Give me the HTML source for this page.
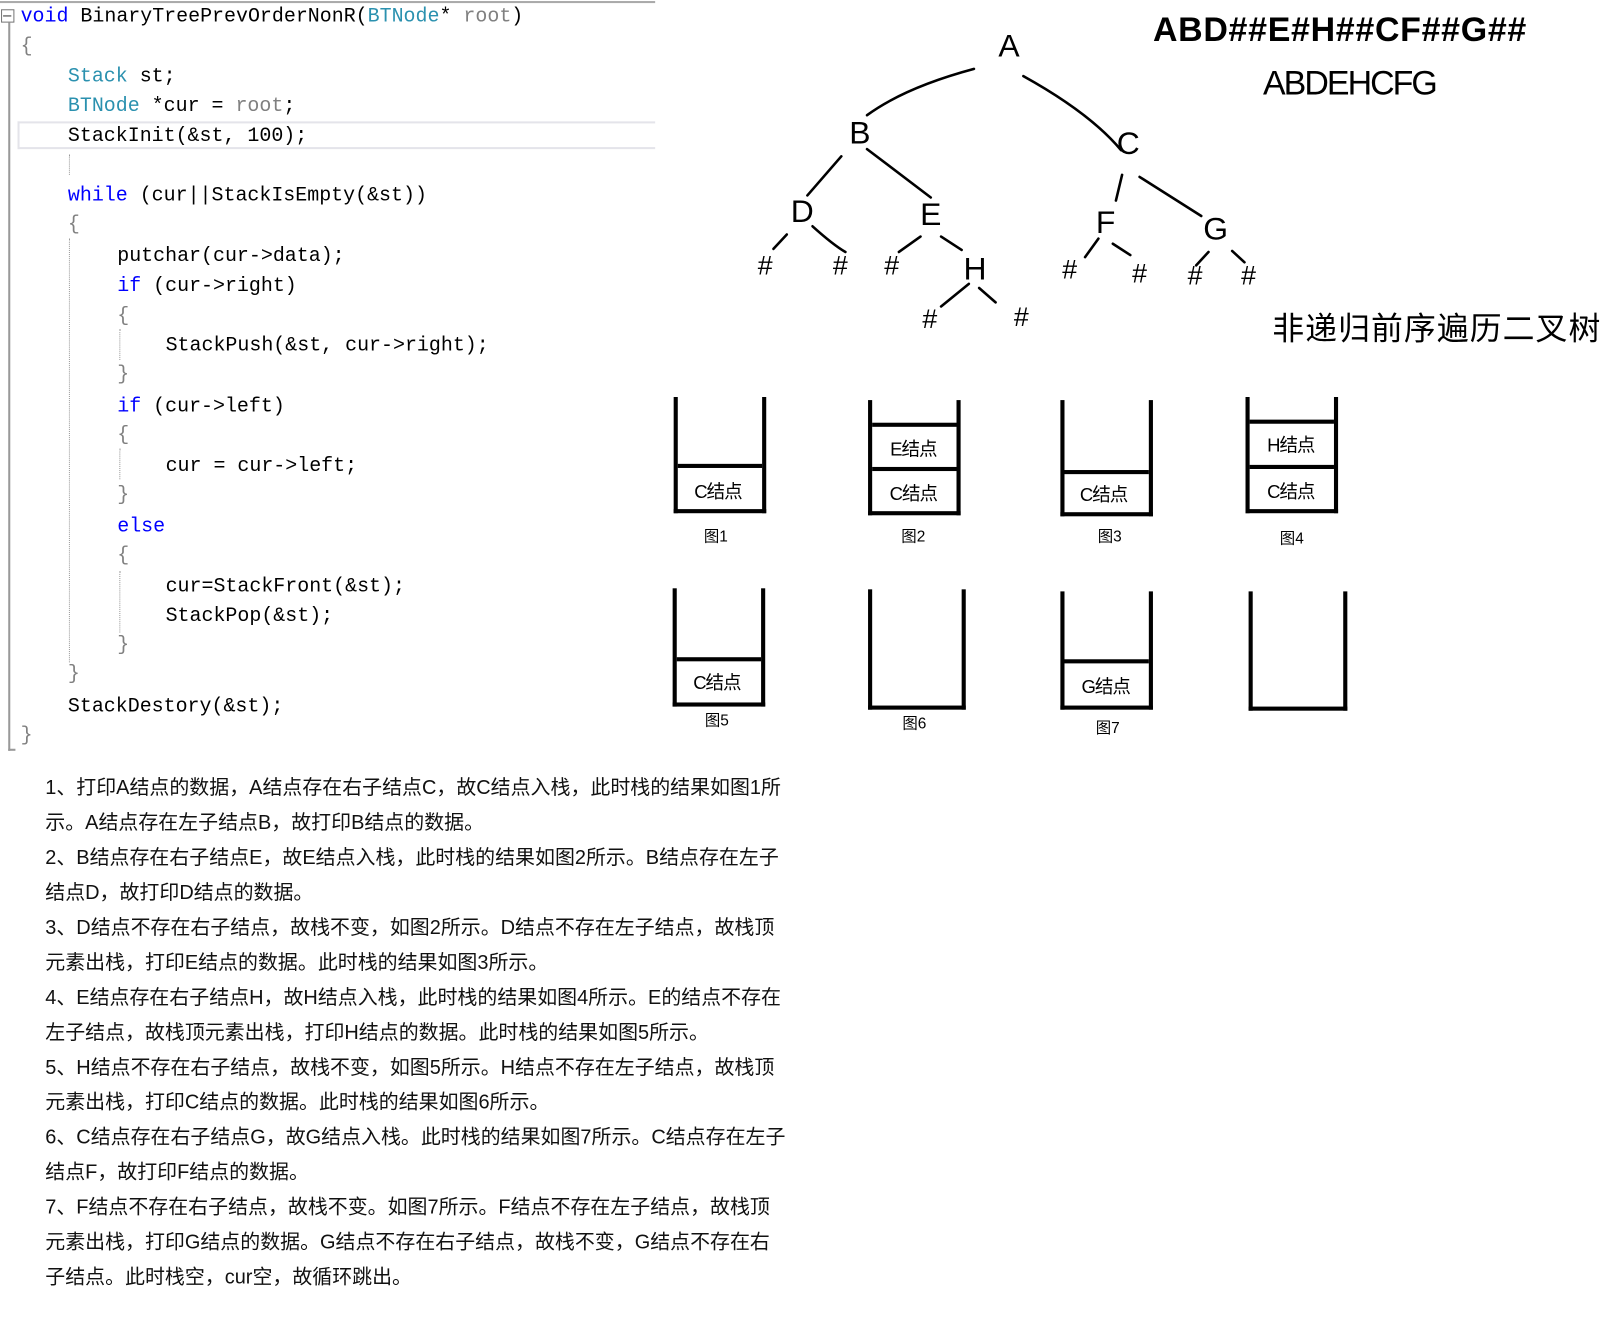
<!DOCTYPE html>
<html><head><meta charset="utf-8"><style>
html,body{margin:0;padding:0;background:#fff;}
body{width:1612px;height:1328px;overflow:hidden;position:relative;}
#w{position:absolute;left:0;top:0;width:1560px;height:1285px;transform:scale(1.0285);transform-origin:0 0;}
.c{position:absolute;font-family:"Liberation Mono","Noto Serif CJK SC",monospace;font-size:19.4px;line-height:20px;white-space:pre;color:#000;}
.k{color:#0000ff}.t{color:#2b91af}.g{color:#808080}
.p{position:absolute;left:44px;font-family:"Liberation Sans","Noto Sans CJK SC",sans-serif;font-size:19.4px;white-space:nowrap;letter-spacing:0px;color:#111;}
.s{position:absolute;border:4px solid #000;border-top:none;box-sizing:border-box;}
.d{position:absolute;left:0;right:0;height:4px;background:#000;}
.l{position:absolute;font-family:"Liberation Sans","Noto Sans CJK SC",sans-serif;font-size:18px;transform:translate(-50%,-50%);white-space:nowrap;letter-spacing:-1px;}
.f{position:absolute;font-family:"Liberation Sans","Noto Sans CJK SC",sans-serif;font-size:15px;transform:translate(-50%,-50%);}
.vg{position:absolute;border-left:1px dotted #999;width:0;}
</style></head><body><div id="w">
<div style="position:absolute;left:0;top:1px;width:637px;height:2px;background:#aaa"></div>
<div style="position:absolute;left:1px;top:9px;width:11px;height:11px;border:1px solid #777;"></div>
<div style="position:absolute;left:3px;top:15px;width:8px;height:1px;background:#333"></div>
<div style="position:absolute;left:8px;top:22px;width:2px;height:708px;background:#999"></div>
<div style="position:absolute;left:8px;top:728px;width:7px;height:2px;background:#999"></div>
<div style="position:absolute;left:17px;top:118px;width:620px;height:27px;border:2px solid #e4e4ea;border-right:none;box-sizing:border-box"></div>
<div class="vg" style="left:67px;top:150px;height:20px"></div>
<div class="vg" style="left:67px;top:232px;height:412px"></div>
<div class="vg" style="left:116px;top:320px;height:30px"></div>
<div class="vg" style="left:116px;top:436px;height:30px"></div>
<div class="vg" style="left:116px;top:555px;height:60px"></div>

<div class="c" style="left:20px;top:6px"><span class="k">void</span> BinaryTreePrevOrderNonR(<span class="t">BTNode</span>* <span class="g">root</span>)</div>
<div class="c g" style="left:20px;top:35px">{</div>
<div class="c" style="left:66px;top:64px"><span class="t">Stack</span> st;</div>
<div class="c" style="left:66px;top:93px"><span class="t">BTNode</span> *cur = <span class="g">root</span>;</div>
<div class="c" style="left:66px;top:122px">StackInit(&amp;st, 100);</div>
<div class="c" style="left:66px;top:180px"><span class="k">while</span> (cur||StackIsEmpty(&amp;st))</div>
<div class="c g" style="left:66px;top:208px">{</div>
<div class="c" style="left:114px;top:239px">putchar(cur-&gt;data);</div>
<div class="c" style="left:114px;top:268px"><span class="k">if</span> (cur-&gt;right)</div>
<div class="c g" style="left:114px;top:297px">{</div>
<div class="c" style="left:161px;top:326px">StackPush(&amp;st, cur-&gt;right);</div>
<div class="c g" style="left:114px;top:354px">}</div>
<div class="c" style="left:114px;top:385px"><span class="k">if</span> (cur-&gt;left)</div>
<div class="c g" style="left:114px;top:413px">{</div>
<div class="c" style="left:161px;top:443px">cur = cur-&gt;left;</div>
<div class="c g" style="left:114px;top:471px">}</div>
<div class="c k" style="left:114px;top:502px">else</div>
<div class="c g" style="left:114px;top:530px">{</div>
<div class="c" style="left:161px;top:560px">cur=StackFront(&amp;st);</div>
<div class="c" style="left:161px;top:589px">StackPop(&amp;st);</div>
<div class="c g" style="left:114px;top:617px">}</div>
<div class="c g" style="left:66px;top:645px">}</div>
<div class="c" style="left:66px;top:677px">StackDestory(&amp;st);</div>
<div class="c g" style="left:20px;top:705px">}</div>

<svg style="position:absolute;left:0;top:0" width="1560" height="360" font-family="Liberation Sans, sans-serif" font-size="31">
<g fill="none" stroke="#000" stroke-width="2.5" stroke-linecap="round">
<path d="M947 67 Q880 85 843 112"/><path d="M995 74 Q1060 110 1090 146"/>
<path d="M818 152 L785 190"/><path d="M843 145 L905 192"/>
<path d="M765 228 L752 242"/><path d="M790 220 Q810 238 822 245"/>
<path d="M895 230 L874 245"/><path d="M915 230 L935 243"/>
<path d="M942 276 L915 298"/><path d="M952 280 L968 294"/>
<path d="M1091 170 L1085 195"/><path d="M1108 172 L1168 210"/>
<path d="M1068 232 L1055 250"/><path d="M1082 237 L1099 248"/>
<path d="M1175 245 L1163 258"/><path d="M1198 244 L1210 255"/>
</g>
<g text-anchor="middle" dominant-baseline="central">
<text x="981" y="44">A</text><text x="836" y="129">B</text><text x="1097" y="139">C</text>
<text x="780" y="205">D</text><text x="905" y="208">E</text><text x="948" y="261">H</text>
<text x="1075" y="216">F</text><text x="1182" y="222">G</text>
<g font-size="26"><text x="744" y="258">#</text><text x="817" y="258">#</text><text x="867" y="258">#</text>
<text x="904" y="310">#</text><text x="993" y="308">#</text><text x="1040" y="262">#</text>
<text x="1108" y="266">#</text><text x="1162" y="268">#</text><text x="1214" y="268">#</text></g>
</g>
<text x="1121" y="40" font-size="33" font-weight="bold" letter-spacing="-1" textLength="362">ABD##E#H##CF##G##</text>
<text x="1228" y="92" font-size="33" textLength="170">ABDEHCFG</text>
<text x="1237" y="330" font-size="31" font-family="Liberation Sans, Noto Sans CJK SC, sans-serif" textLength="319">非递归前序遍历二叉树</text>
</svg>

<div class="s" style="left:655px;top:386px;width:90px;height:113px"><div class="d" style="top:65px"></div></div>
<div class="l" style="left:698px;top:477px">C结点</div><div class="f" style="left:696px;top:521px">图1</div>
<div class="s" style="left:844px;top:389px;width:90px;height:112px"><div class="d" style="top:22px"></div><div class="d" style="top:65px"></div></div>
<div class="l" style="left:888px;top:436px">E结点</div><div class="l" style="left:888px;top:479px">C结点</div><div class="f" style="left:888px;top:521px">图2</div>
<div class="s" style="left:1031px;top:389px;width:90px;height:113px"><div class="d" style="top:68px"></div></div>
<div class="l" style="left:1073px;top:480px">C结点</div><div class="f" style="left:1079px;top:521px">图3</div>
<div class="s" style="left:1211px;top:386px;width:90px;height:113px"><div class="d" style="top:22px"></div><div class="d" style="top:66px"></div></div>
<div class="l" style="left:1255px;top:432px">H结点</div><div class="l" style="left:1255px;top:477px">C结点</div><div class="f" style="left:1256px;top:523px">图4</div>

<div class="s" style="left:654px;top:572px;width:90px;height:115px"><div class="d" style="top:67px"></div></div>
<div class="l" style="left:697px;top:663px">C结点</div><div class="f" style="left:697px;top:700px">图5</div>
<div class="s" style="left:844px;top:573px;width:95px;height:117px"></div><div class="f" style="left:889px;top:703px">图6</div>
<div class="s" style="left:1031px;top:575px;width:90px;height:115px"><div class="d" style="top:66px"></div></div>
<div class="l" style="left:1075px;top:667px">G结点</div><div class="f" style="left:1077px;top:707px">图7</div>
<div class="s" style="left:1214px;top:575px;width:96px;height:116px"></div>

<div class="p" style="top:749px">1、打印A结点的数据，A结点存在右子结点C，故C结点入栈，此时栈的结果如图1所</div>
<div class="p" style="top:783px">示。A结点存在左子结点B，故打印B结点的数据。</div>
<div class="p" style="top:817px">2、B结点存在右子结点E，故E结点入栈，此时栈的结果如图2所示。B结点存在左子</div>
<div class="p" style="top:851px">结点D，故打印D结点的数据。</div>
<div class="p" style="top:885px">3、D结点不存在右子结点，故栈不变，如图2所示。D结点不存在左子结点，故栈顶</div>
<div class="p" style="top:919px">元素出栈，打印E结点的数据。此时栈的结果如图3所示。</div>
<div class="p" style="top:953px">4、E结点存在右子结点H，故H结点入栈，此时栈的结果如图4所示。E的结点不存在</div>
<div class="p" style="top:987px">左子结点，故栈顶元素出栈，打印H结点的数据。此时栈的结果如图5所示。</div>
<div class="p" style="top:1021px">5、H结点不存在右子结点，故栈不变，如图5所示。H结点不存在左子结点，故栈顶</div>
<div class="p" style="top:1055px">元素出栈，打印C结点的数据。此时栈的结果如图6所示。</div>
<div class="p" style="top:1089px">6、C结点存在右子结点G，故G结点入栈。此时栈的结果如图7所示。C结点存在左子</div>
<div class="p" style="top:1123px">结点F，故打印F结点的数据。</div>
<div class="p" style="top:1157px">7、F结点不存在右子结点，故栈不变。如图7所示。F结点不存在左子结点，故栈顶</div>
<div class="p" style="top:1191px">元素出栈，打印G结点的数据。G结点不存在右子结点，故栈不变，G结点不存在右</div>
<div class="p" style="top:1225px">子结点。此时栈空，cur空，故循环跳出。</div>
</div></body></html>
